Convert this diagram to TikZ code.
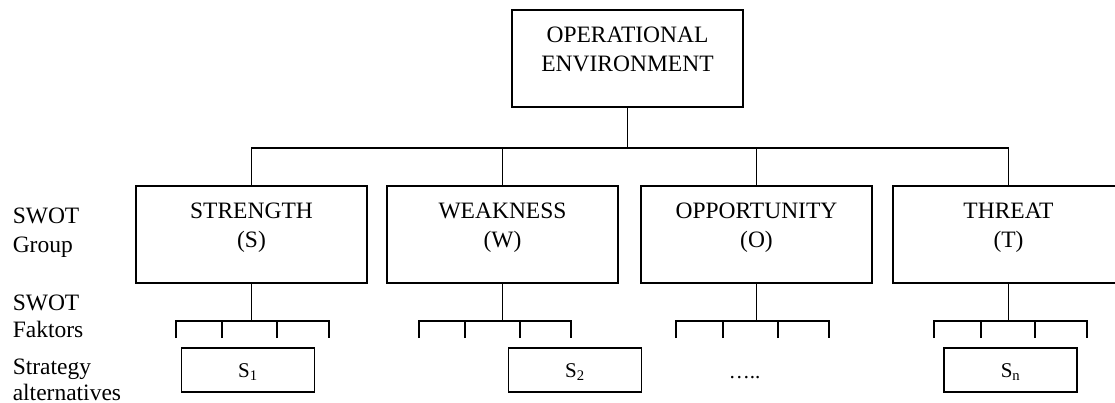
\documentclass[tikz,border=0pt]{standalone}
\usepackage{fontspec}
\setmainfont{Liberation Serif}
\begin{document}
\begin{tikzpicture}[x=1pt,y=-1pt,line width=1.5pt,
  grp/.style={draw, inner sep=0pt,
    font=\fontsize{23.5}{29}\selectfont,
    execute at begin node={\begin{minipage}[c][97pt][t]{231pt}\centering\vspace*{17pt}},
    execute at end node={\end{minipage}}},
  alt/.style={draw, minimum width=133pt, minimum height=44pt, inner sep=0pt,
    text height=15pt, text depth=0pt, font=\fontsize{21}{24}\selectfont},
  lbl/.style={anchor=base west, align=left, inner sep=0pt},
  wire/.style={line width=1.5pt}]
\useasboundingbox (0,0) rectangle (1115,403);
% main boxes
\node[grp] (top) at (627.5,58.5) {OPERATIONAL\\ENVIRONMENT};
\node[grp] (S) at (251.5,234.5) {STRENGTH\\(S)};
\node[grp] (W) at (502.5,234.5) {WEAKNESS\\(W)};
\node[grp] (O) at (756.5,234.5) {OPPORTUNITY\\(O)};
\node[grp] (T) at (1008.5,234.5) {THREAT\\(T)};
% top bus
\coordinate (bus) at (0,148);
\draw[wire] (top.south) -- (top.south |- bus);
\draw[wire] (S.north) -- (S.north |- bus) -- (T.north |- bus) -- (T.north);
\draw[wire] (W.north) -- (W.north |- bus);
\draw[wire] (O.north) -- (O.north |- bus);
% factor ticks
\coordinate (fbus) at (0,321);
\foreach \g/\a/\b/\c/\d in {S/176/222/277/329, W/419/465/520/571, O/676/723/778/829, T/934/981/1035/1087}{
  \coordinate (\g t1) at (\a,338);
  \coordinate (\g t2) at (\b,338);
  \coordinate (\g t3) at (\c,338);
  \coordinate (\g t4) at (\d,338);
  \draw[wire] (\g.south) -- (\g.south |- fbus);
  \draw[wire] (\g t1) -- (\g t1 |- fbus) -- (\g t4 |- fbus) -- (\g t4);
  \draw[wire] (\g t2) -- (\g t2 |- fbus);
  \draw[wire] (\g t3) -- (\g t3 |- fbus);
}
% strategy alternatives
\node[alt] (s1) at (248,370) {S\textsubscript{1}};
\node[alt] (s2) at (575,370) {S\textsubscript{2}};
\node[anchor=base, inner sep=0pt, font=\fontsize{21}{24}\selectfont] (dots) at (744.5,378) {…..};
\node[alt] (sn) at (1010.5,370) {S\textsubscript{n}};
% left labels
\node[lbl, font=\fontsize{23.5}{29}\selectfont] (lg) at (12,252) {SWOT\\Group};
\node[lbl, font=\fontsize{23.5}{27}\selectfont] (lf) at (12,337) {SWOT\\Faktors};
\node[lbl, font=\fontsize{23.5}{26}\selectfont] (la) at (12,400) {Strategy\\alternatives};
\end{tikzpicture}
\end{document}
